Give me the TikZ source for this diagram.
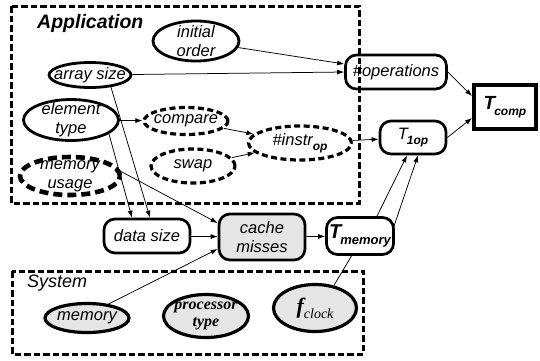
\documentclass[tikz,border=0pt]{standalone}
\usepackage{fontspec}
\setmainfont{Liberation Sans}
\newfontfamily\serifit{Liberation Serif}
\usetikzlibrary{arrows.meta,calc,backgrounds,shapes.geometric}

\tikzset{
  lbl/.style={font=\fontsize{16.5}{19}\selectfont\itshape, align=center, inner sep=0pt},
  seriflbl/.style={font=\fontsize{16}{17}\selectfont\serifit\bfseries\itshape, align=center, inner sep=0pt},
  says/.style={label={[lbl]center:{#1}}},
  oval/.style={ellipse, draw, line width=2.8pt, fill=white, inner sep=0pt},
  dashoval/.style={oval, line width=3.2pt, dash pattern=on 6pt off 3.5pt},
  heavyoval/.style={oval, line width=4.6pt, dash pattern=on 9pt off 5pt},
  greyoval/.style={oval, fill=black!10, line width=3.2pt},
  rbox/.style={rectangle, rounded corners=11pt, draw, line width=2.7pt, fill=white,
    inner sep=0pt, align=center, font=\fontsize{16.5}{19}\selectfont\itshape},
  frame/.style={line width=3pt, dash pattern=on 6.5pt off 3pt},
  conn/.style={line width=0.75pt, -{Latex[length=7pt,width=5pt]}},
  heading/.style={anchor=west, inner sep=0pt},
}

\begin{document}
\begin{tikzpicture}[x=1pt, y=-1pt]
\useasboundingbox (0,0) rectangle (540,360);

% application parameters
\node[oval, minimum width=86, minimum height=40, says={initial\\order}] (init) at (196,41) {};
\node[oval, minimum width=82, minimum height=25, says={array size}] (asize) at (90,75) {};
\node[oval, minimum width=95, minimum height=41, says={element\\type}] (etype) at (71,120) {};
\node[dashoval, minimum width=84, minimum height=27, says={compare}] (compare) at (186,121) {};
\node[dashoval, minimum width=84, minimum height=34, says={swap}] (swap) at (193,166) {};
\node[heavyoval, minimum width=100, minimum height=38, says={memory\\usage}] (musage) at (70,176) {};
\node[dashoval, minimum width=103, minimum height=34,
  says={\#instr\raisebox{-5pt}{\fontsize{12}{12}\selectfont\bfseries op}}] (instr) at (300,143) {};

% derived quantities
\node[rbox, minimum width=101, minimum height=34] (ops) at (396,72) {\#operations};
\node[rbox, minimum width=66, minimum height=33] (t1op) at (413,137.5)
  {T\kern-1pt\raisebox{-5pt}{\fontsize{12}{12}\selectfont\bfseries 1op}};
\node[rectangle, draw, line width=4pt, fill=white, inner sep=0pt,
  minimum width=62, minimum height=44] (tcomp) at (505,107)
  {\bfseries\itshape\fontsize{19}{19}\selectfont T\kern-1pt\raisebox{-6pt}{\fontsize{12}{12}\selectfont comp}};
\node[rbox, minimum width=86, minimum height=34] (dsize) at (147,236) {data size};
\node[rbox, minimum width=86, minimum height=46, fill=black!10] (cache) at (262,237) {cache\\misses};
\node[rbox, minimum width=67, minimum height=37] (tmem) at (360,236)
  {\bfseries\fontsize{20}{20}\selectfont T\kern-1pt\raisebox{-6pt}{\fontsize{13}{13}\selectfont memory}};

% system parameters
\node[greyoval, minimum width=84, minimum height=29, says={memory}] (memory) at (87,318) {};
\node[greyoval, minimum width=85, minimum height=43,
  label={[seriflbl]center:{processor\\type}}] (proc) at (206,316) {};
\node[greyoval, minimum width=83, minimum height=47,
  label={[inner sep=0pt]center:{\serifit\itshape{\bfseries\fontsize{22}{22}\selectfont f}\raisebox{-5pt}{\fontsize{14}{14}\selectfont clock}}}] (fclock) at (315,308) {};

% group frames
\draw[frame] (11,6) rectangle (359,203);
\draw[frame] (12,271) rectangle (363,354);
\node[heading, font=\fontsize{19.5}{22}\selectfont\bfseries\itshape] (applbl) at (37,23) {Application};
\node[heading, font=\fontsize{18}{20}\selectfont\itshape] (syslbl) at (27,283) {System};

% dependencies
\draw[conn] (init) -- ($(ops.west)+(0,-8)$);
\draw[conn] (asize) -- (ops.west);
\draw[conn] (ops.east) -- ($(tcomp.west)+(0,-11)$);
\draw[conn] (t1op.east) -- ($(tcomp.west)+(0,11)$);
\draw[conn] (etype) -- (compare);
\draw[conn] (compare) -- (instr);
\draw[conn] (swap) -- (instr);
\draw[conn] (instr) -- (t1op);
\draw[conn] (asize.-30) -- ($(dsize.north)+(3,0)$);
\draw[conn] (etype.-20) -- ($(dsize.north)+(-15,0)$);
\draw[conn] (musage.5) -- ($(cache.west)+(0,-14)$);
\draw[conn] (dsize) -- (cache);
\draw[conn] (memory.33) -- ($(cache.west)+(0,12)$);
\draw[conn] (cache) -- (tmem);
\draw[conn] ($(tmem.north)+(17,0)$) -- ($(t1op.south)+(-6,0)$);
\begin{pgfonlayer}{background}
  \draw[conn] (fclock.50) -- ($(tmem.center)+(-2,9)$) -- ($(tmem.center)+(32,-4)$)
    -- ($(t1op.south)+(5,0)$);
\end{pgfonlayer}
\end{tikzpicture}
\end{document}
